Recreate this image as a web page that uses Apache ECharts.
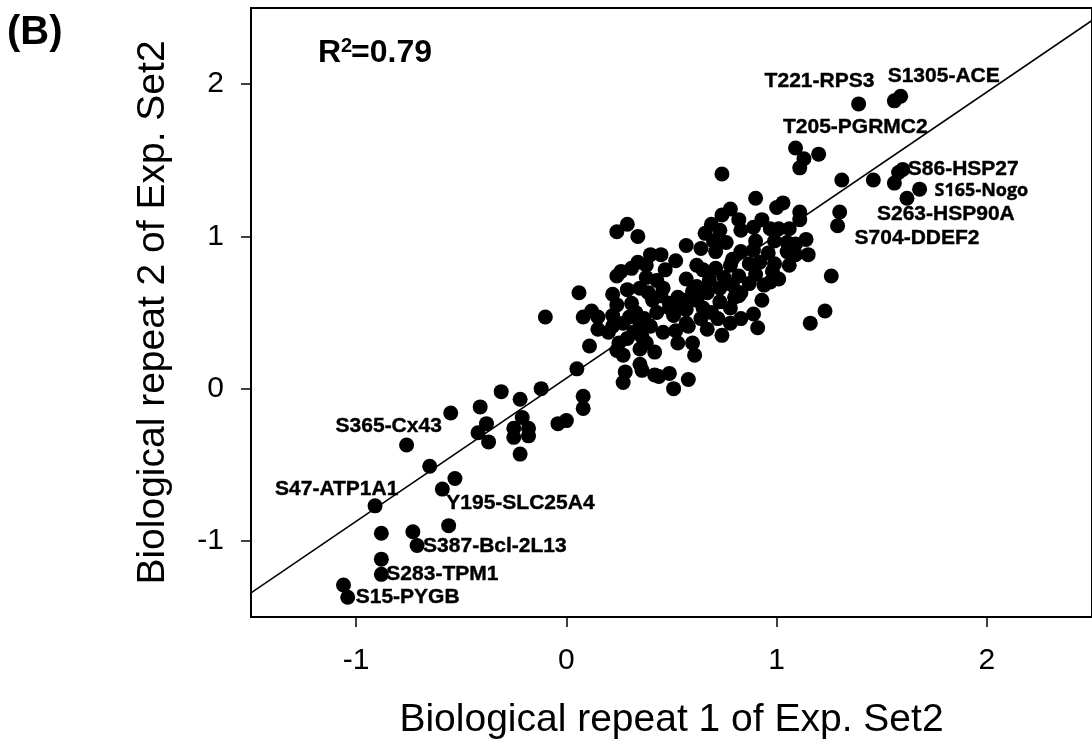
<!DOCTYPE html>
<html>
<head>
<meta charset="utf-8">
<script src="https://cdn.jsdelivr.net/npm/echarts@6/dist/echarts.min.js"></script>
<style>html,body{margin:0;padding:0;background:#fff;}#c{width:1092px;height:745px;}</style>
</head>
<body>
<div id="c"></div>
<script>
// ---- data ----
const repeat1 = [
 -1.06,-1.04,-0.88,-0.88,-0.88,-0.73,-0.71,-0.56,-0.91,-0.59,-0.53,-0.65,-0.76,-0.55,-0.41,-0.38,-0.42,-0.37,-0.31,-0.22,
 -0.12,-0.21,-0.25,-0.18,-0.25,-0.18,-0.22,-0.04,0.00,0.08,0.08,0.27,
 0.24,0.29,0.34,0.40,0.34,0.31,0.26,0.24,0.38,0.29,0.22,0.35,0.39,0.41,0.06,0.31,0.12,0.22,0.08,-0.10,0.15,0.30,0.35,0.27,
 0.15,0.20,0.32,0.36,0.25,0.11,0.35,0.27,0.35,0.42,0.42,0.05,0.28,
 0.90,1.00,1.03,1.11,1.11,0.78,0.74,0.69,0.82,0.83,0.89,0.93,0.97,0.66,0.70,0.76,0.64,1.05,1.09,1.14,1.05,1.09,1.15,0.71,
 0.83,0.89,0.96,0.79,0.87,0.92,0.99,0.65,0.71,0.75,0.82,0.90,0.98,0.68,0.87,0.97,0.62,0.82,0.73,0.65,0.93,0.89,0.91,1.16,
 1.23,0.74,0.61,0.60,0.53,0.58,0.51,0.44,0.49,0.58,0.46,0.52,0.47,0.53,0.60,0.46,0.49,0.55,0.43,0.51,
 1.09,1.13,1.11,1.20,0.74,1.31,1.30,1.29,1.26,
 0.80,0.83,0.49,0.57,0.36,
 1.46,1.56,1.58,1.60,1.68,1.62,1.39,1.56,1.59,
 0.24,0.33,0.37,0.40,0.29,0.22,0.38,0.24,0.45,0.56,0.64,0.69,0.57,0.52,0.67,0.72,0.78,0.94,1.01,1.06,
 0.79,0.73,0.67,0.62,0.78,0.62,0.57,0.43,0.38,0.45,0.57,0.73,0.90,0.99,1.01,1.06,0.83,0.78
];
const repeat2 = [
 -1.29,-1.37,-1.22,-1.12,-0.95,-0.94,-1.03,-0.90,-0.77,-0.66,-0.59,-0.51,-0.37,-0.16,-0.12,-0.23,-0.29,-0.35,-0.02,-0.07,
 0.00,-0.19,-0.26,-0.26,-0.32,-0.31,-0.43,-0.23,-0.21,-0.05,-0.13,0.04,
 1.03,1.08,1.00,0.88,0.83,0.79,0.77,0.74,0.73,0.65,0.62,0.66,0.63,0.58,0.63,0.56,0.51,0.48,0.47,0.47,0.47,0.47,0.43,0.43,
 0.39,0.37,0.37,0.34,0.30,0.28,0.26,0.22,0.16,0.24,0.09,0.13,0.11,
 1.25,1.19,1.22,1.16,1.11,1.18,1.14,1.08,1.11,1.04,1.06,1.11,1.05,1.02,0.97,0.96,0.92,0.96,0.95,0.98,0.90,0.88,0.88,0.90,
 0.90,0.91,0.89,0.85,0.82,0.83,0.82,0.78,0.79,0.73,0.74,0.75,0.77,0.71,0.69,0.70,0.67,0.61,0.57,0.53,0.58,0.49,0.40,0.43,
 0.51,0.35,0.22,0.30,0.30,0.41,0.00,0.08,0.10,0.06,0.37,0.84,0.78,0.60,0.64,0.66,0.56,0.53,0.50,0.48,
 1.58,1.51,1.45,1.54,1.41,1.37,1.16,1.07,0.74,
 0.60,0.63,0.53,0.52,0.12,
 1.37,1.35,1.42,1.44,1.31,1.25,1.87,1.89,1.92,
 0.55,0.50,0.46,0.41,0.33,0.41,0.30,0.25,0.61,0.58,0.46,0.50,0.43,0.38,0.39,0.46,0.53,0.68,0.72,0.81,
 0.68,0.66,0.63,0.58,0.81,0.81,0.72,0.71,0.81,0.88,0.94,1.04,0.97,0.97,1.05,1.05,0.46,0.43
];
const fitX = [-1.5, 2.5];
const fitY = [-1.342, 2.418];
const xTicks = [-1, 0, 1, 2];
const yTicks = [-1, 0, 1, 2];
const siteNames = ['T221-RPS3','S1305-ACE','T205-PGRMC2','S86-HSP27','S165-Nogo','S263-HSP90A','S704-DDEF2',
                   'S365-Cx43','S47-ATP1A1','Y195-SLC25A4','S387-Bcl-2L13','S283-TPM1','S15-PYGB'];
const siteX = [1.39,1.59,1.13,1.60,1.68,1.62,1.29,-0.76,-0.91,-0.59,-0.71,-0.88,-1.04];
const siteY = [1.87,1.92,1.51,1.44,1.31,1.25,1.07,-0.37,-0.77,-0.66,-1.03,-1.22,-1.37];
const r2Main = 'R', r2Sup = '2', r2Rest = '=0.79';
const panelText = '(B)';
const xTitle = 'Biological repeat 1 of Exp. Set2';
const yTitle = 'Biological repeat 2 of Exp. Set2';

// ---- styles (label offsets in px) ----
const labelOffset = {
 'T221-RPS3':[-94,-23],'S1305-ACE':[-13,-20],'T205-PGRMC2':[-21,-32],'S86-HSP27':[5,0],
 'S165-Nogo':[15,2],'S263-HSP90A':[-30,16],'S704-DDEF2':[17,12],'S365-Cx43':[-71,-19],
 'S47-ATP1A1':[-100,-17],'Y195-SLC25A4':[4,14],'S387-Bcl-2L13':[6,1],'S283-TPM1':[5,0],'S15-PYGB':[8,0]
};
const FONT = '"Liberation Sans", Arial, sans-serif';

const points = repeat1.map((v, i) => [v, repeat2[i]]);
const fitLine = fitX.map((v, i) => [v, fitY[i]]);
const labelData = siteNames.map((n, i) => {
  const nogo = n === 'S165-Nogo';
  return {
    name: n, value: [siteX[i], siteY[i]],
    label: {
      offset: labelOffset[n],
      color: '#000',
      fontFamily: nogo ? '"Open Sans", sans-serif' : FONT,
      fontSize: nogo ? 18 : 21
    }
  };
});

const chart = echarts.init(document.getElementById('c'), null, {renderer: 'canvas'});
chart.setOption({
  animation: false,
  backgroundColor: '#fff',
  grid: {left: 251, width: 846, top: 8, bottom: 128, show: true, borderColor: '#000', borderWidth: 2, backgroundColor: 'transparent'},
  xAxis: {
    type: 'value', min: -1.5, max: 2.5,
    name: xTitle, nameLocation: 'middle', nameGap: 84,
    nameTextStyle: {fontFamily: FONT, fontSize: 39, color: '#000'},
    axisLine: {show: true, onZero: false, lineStyle: {color: '#000', width: 2}},
    axisTick: {show: true, inside: false, length: 10, customValues: xTicks, lineStyle: {color: '#000', width: 1.5}},
    axisLabel: {customValues: xTicks, margin: 29, fontFamily: FONT, fontSize: 30, color: '#000'},
    splitLine: {show: false}
  },
  yAxis: {
    type: 'value', min: -1.5, max: 2.5,
    name: yTitle, nameLocation: 'middle', nameGap: 78,
    nameTextStyle: {fontFamily: FONT, fontSize: 39, color: '#000'},
    axisLine: {show: true, onZero: false, lineStyle: {color: '#000', width: 2}},
    axisTick: {show: true, inside: false, length: 10, customValues: yTicks, lineStyle: {color: '#000', width: 1.5}},
    axisLabel: {customValues: yTicks, margin: 27, fontFamily: FONT, fontSize: 30, color: '#000'},
    splitLine: {show: false}
  },
  graphic: [
    {type: 'text', left: 7, top: 13, style: {text: panelText, font: 'bold 40px "Liberation Sans", Arial, sans-serif', fill: '#000'}},
    {type: 'text', left: 318, top: 37, style: {text: r2Main, font: 'bold 32px "Liberation Sans", Arial, sans-serif', fill: '#000'}},
    {type: 'text', left: 341, top: 36, style: {text: r2Sup, font: 'bold 20px "Liberation Sans", Arial, sans-serif', fill: '#000'}},
    {type: 'text', left: 351, top: 37, style: {text: r2Rest, font: 'bold 32px "Liberation Sans", Arial, sans-serif', fill: '#000'}}
  ],
  series: [
    {type: 'line', data: fitLine, symbol: 'none', silent: true, z: 1,
     lineStyle: {color: '#000', width: 1.5}},
    {type: 'scatter', data: points, symbol: 'circle', symbolSize: 15, z: 2,
     itemStyle: {color: '#000', opacity: 1}},
    {type: 'scatter', data: labelData, symbolSize: 0, z: 3,
     itemStyle: {opacity: 1},
     label: {show: true, position: 'right', distance: 0, formatter: '{b}', fontWeight: 'bold', color: '#000',
             textBorderColor: '#000', textBorderWidth: 0.4, opacity: 1, align: 'left', verticalAlign: 'middle'}}
  ]
});
</script>
</body>
</html>
